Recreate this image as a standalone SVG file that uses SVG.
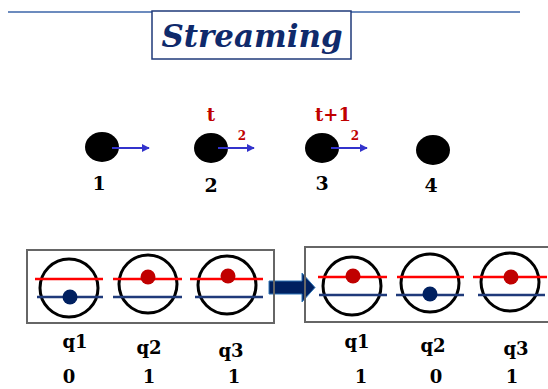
<svg xmlns="http://www.w3.org/2000/svg" width="548" height="389" viewBox="0 0 548 389">
<style>
.lbl{font-family:"DejaVu Serif","Liberation Serif",serif;font-weight:bold;fill:#000;text-anchor:middle}
.red{font-family:"DejaVu Serif","Liberation Serif",serif;font-weight:bold;fill:#c00000;text-anchor:middle}
.node{fill:#000}
.arr{stroke:#3333cc;stroke-width:2;fill:none;marker-end:url(#ah)}
.qc{fill:none;stroke:#000;stroke-width:3}
.rl{stroke:#ff0000;stroke-width:2.5}
.bl{stroke:#1f3a7a;stroke-width:2.5}
.rd{fill:#c00000}
.bd{fill:#002060}
.box{fill:none;stroke:#666;stroke-width:2}
</style>
<defs>
<marker id="ah" viewBox="0 0 10 10" refX="9" refY="5" markerWidth="4" markerHeight="4" orient="auto" markerUnits="strokeWidth">
<path d="M0,0 L10,5 L0,10 z" fill="#3333cc"/>
</marker>
</defs>
<rect width="548" height="389" fill="#fff"/>
<line x1="8" y1="12" x2="520" y2="12" stroke="#3b64a8" stroke-width="1.5"/>
<g id="title">
<rect x="152" y="11" width="199" height="48" fill="#fff" stroke="#1f3a7a" stroke-width="1.5"/>
<text x="252" y="47" font-family="DejaVu Serif, Liberation Serif, serif" font-weight="bold" font-style="italic" font-size="32" fill="#0f2a6b" text-anchor="middle" textLength="181" lengthAdjust="spacingAndGlyphs">Streaming</text>
</g>
<g id="n1"><ellipse class="node" cx="102" cy="147" rx="17" ry="15"/><text class="lbl" x="99" y="190" font-size="19">1</text></g>
<g id="n2"><ellipse class="node" cx="211" cy="148" rx="17" ry="15"/><text class="lbl" x="211" y="192" font-size="19">2</text><text class="red" x="211" y="121" font-size="18">t</text><text class="red" x="242" y="140" font-size="12">2</text></g>
<g id="n3"><ellipse class="node" cx="322" cy="148" rx="17" ry="15"/><text class="lbl" x="322" y="190" font-size="19">3</text><text class="red" x="333" y="121" font-size="18">t+1</text><text class="red" x="355" y="140" font-size="12">2</text></g>
<g id="n4"><ellipse class="node" cx="433" cy="150" rx="17" ry="15"/><text class="lbl" x="431" y="192" font-size="19">4</text></g>
<g id="connectors">
<line class="arr" x1="112" y1="148" x2="149" y2="148"/>
<line class="arr" x1="218" y1="148" x2="254" y2="148"/>
<line class="arr" x1="331" y1="148" x2="367" y2="148"/>
<path d="M269,281 L302,281 L302,273 L315,287.5 L302,302 L302,294 L269,294 z" fill="#002060" stroke="#2e75b6" stroke-width="1"/>
</g>
<g id="left-state">
<rect class="box" x="27" y="250" width="247" height="73"/>
<circle class="qc" cx="69" cy="288" r="29"/>
<circle class="qc" cx="148" cy="284" r="29"/>
<circle class="qc" cx="227" cy="285" r="29"/>
<line class="rl" x1="35" y1="279" x2="103" y2="279"/><line class="bl" x1="37" y1="297" x2="103" y2="297"/>
<line class="rl" x1="113" y1="279" x2="182" y2="279"/><line class="bl" x1="113" y1="297" x2="182" y2="297"/>
<line class="rl" x1="190" y1="279" x2="263" y2="279"/><line class="bl" x1="195" y1="297" x2="263" y2="297"/>
<circle class="bd" cx="70" cy="297" r="7.5"/>
<circle class="rd" cx="148" cy="277" r="7.5"/>
<circle class="rd" cx="228" cy="276" r="7.5"/>
<text class="lbl" x="75" y="348" font-size="18">q1</text>
<text class="lbl" x="149" y="354" font-size="18">q2</text>
<text class="lbl" x="231" y="357" font-size="18">q3</text>
<text class="lbl" x="69" y="383" font-size="18">0</text>
<text class="lbl" x="149" y="383" font-size="18">1</text>
<text class="lbl" x="234" y="383" font-size="18">1</text>
</g>
<g id="right-state">
<rect class="box" x="305" y="247" width="260" height="75"/>
<circle class="qc" cx="352" cy="286" r="29"/>
<circle class="qc" cx="430" cy="283" r="29"/>
<circle class="qc" cx="510" cy="282" r="29"/>
<line class="rl" x1="318" y1="277" x2="387" y2="277"/><line class="bl" x1="319" y1="295" x2="387" y2="295"/>
<line class="rl" x1="397" y1="277" x2="464" y2="277"/><line class="bl" x1="396" y1="295" x2="464" y2="295"/>
<line class="rl" x1="473" y1="277" x2="547" y2="277"/><line class="bl" x1="478" y1="295" x2="545" y2="295"/>
<circle class="rd" cx="353" cy="276" r="7.5"/>
<circle class="bd" cx="430" cy="294" r="7.5"/>
<circle class="rd" cx="511" cy="277" r="7.5"/>
<text class="lbl" x="357" y="348" font-size="18">q1</text>
<text class="lbl" x="433" y="352" font-size="18">q2</text>
<text class="lbl" x="516" y="355" font-size="18">q3</text>
<text class="lbl" x="361" y="383" font-size="18">1</text>
<text class="lbl" x="436" y="383" font-size="18">0</text>
<text class="lbl" x="512" y="383" font-size="18">1</text>
</g>
</svg>
